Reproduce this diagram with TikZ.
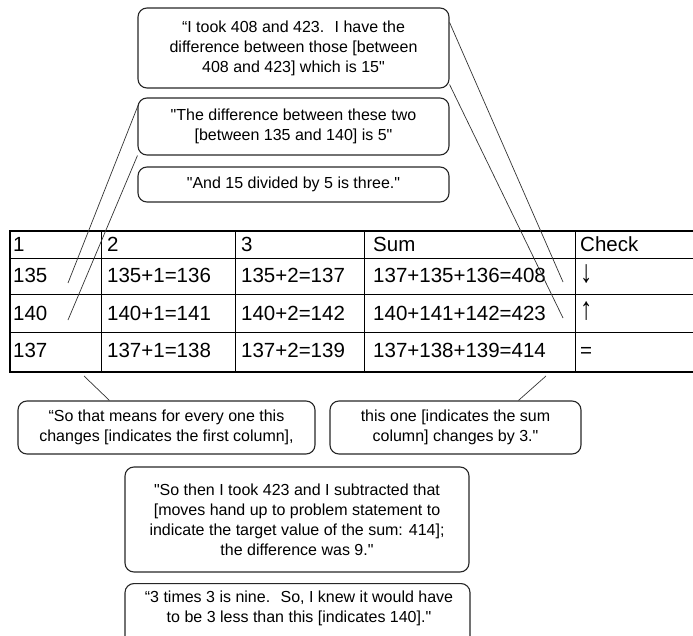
\documentclass[tikz,border=0pt]{standalone}
\usepackage{fontspec}
\setmainfont{Liberation Sans}
\newfontfamily\lsans{Liberation Sans}
\newcommand{\bigarrow}[1]{\raisebox{1pt}{\scalebox{1.2}[1.55]{#1}}}
\begin{document}
\begin{tikzpicture}[x=1pt,y=-1pt,
  qbox/.style={draw=black!85, line width=1.1pt, rounded corners=9pt, inner sep=0pt,
    align=center, font=\lsans\fontsize{16}{20}\selectfont},
  link/.style={draw=black!80, line width=0.7pt},
  cell/.style={anchor=base west, inner sep=0pt, font=\lsans\fontsize{20.5}{24}\selectfont},
  grid/.style={line width=0.9pt},
  frame/.style={line width=2.2pt}]
\useasboundingbox (0,0) rectangle (693,636);

% table
\foreach \yy in {258,294,332} \draw[grid] (10,\yy) -- (702,\yy);
\foreach \xx in {101,235,364,575} \draw[grid] (\xx,231) -- (\xx,372);
\draw[frame] (10,231) rectangle (702,372);

\foreach \r/\yb/\a/\b/\c/\d/\e in {
  0/252/1/2/3/Sum/Check,
  1/283/135/135+1=136/135+2=137/137+135+136=408/\bigarrow{↓},
  2/320/140/140+1=141/140+2=142/140+141+142=423/\bigarrow{↑},
  3/357/137/137+1=138/137+2=139/137+138+139=414/=}{
  \node[cell] (c\r a) at (13,\yb) {\a};
  \node[cell] (c\r b) at (107,\yb) {\b};
  \node[cell] (c\r c) at (241,\yb) {\c};
  \node[cell] (c\r d) at (373,\yb) {\d};
  \node[cell] (c\r e) at (580,\yb) {\e};
}

% boxes
\node[qbox, minimum width=311pt, minimum height=80pt] (bA) at (293.5,48)
  {“I took 408 and 423.~ I have the\\difference between those [between\\408 and 423] which is 15"};
\node[qbox, minimum width=311pt, minimum height=57pt] (bB) at (293.5,126.5)
  {"The difference between these two\\{[}between 135 and 140] is 5"};
\node[qbox, minimum width=311pt, minimum height=35pt] (bC) at (293.5,184.5)
  {"And 15 divided by 5 is three."};
\node[qbox, minimum width=297pt, minimum height=53pt] (bD) at (166.5,427.5)
  {“So that means for every one this\\changes [indicates the first column],};
\node[qbox, minimum width=251pt, minimum height=53pt] (bE) at (455.5,427.5)
  {this one [indicates the sum\\column] changes by 3."};
\node[qbox, minimum width=344pt, minimum height=105pt] (bF) at (297,519.5)
  {"So then I took 423 and I subtracted that\\{[}moves hand up to problem statement to\\indicate the target value of the sum: 414];\\the difference was 9."};
\node[qbox, minimum width=345pt, minimum height=80pt, anchor=north] (bG) at (297.5,583) {};
\node[inner sep=0pt, align=center, font=\lsans\fontsize{16}{20}\selectfont] (tG) at (299,608)
  {“3 times 3 is nine.~ So, I knew it would have\\to be 3 less than this [indicates 140]."};

% connector ends
\coordinate (e135) at (68,283);
\coordinate (e140) at (68,320);
\coordinate (e408) at (563,282);
\coordinate (e423) at (563,318);
\coordinate (sD) at (84,376);
\coordinate (sE) at (546,376);

\draw[link] ([xshift=1pt,yshift=-7pt]bB.north west) -- (e135);
\draw[link] (bB.south west) -- (e140);
\draw[link] ([yshift=-15pt]bA.north east) -- (e408);
\draw[link] ([yshift=4pt]bA.south east) -- (e423);
\draw[link] (sD) -- ([xshift=92pt]bD.north west);
\draw[link] (sE) -- ([xshift=189pt]bE.north west);
\end{tikzpicture}
\end{document}
